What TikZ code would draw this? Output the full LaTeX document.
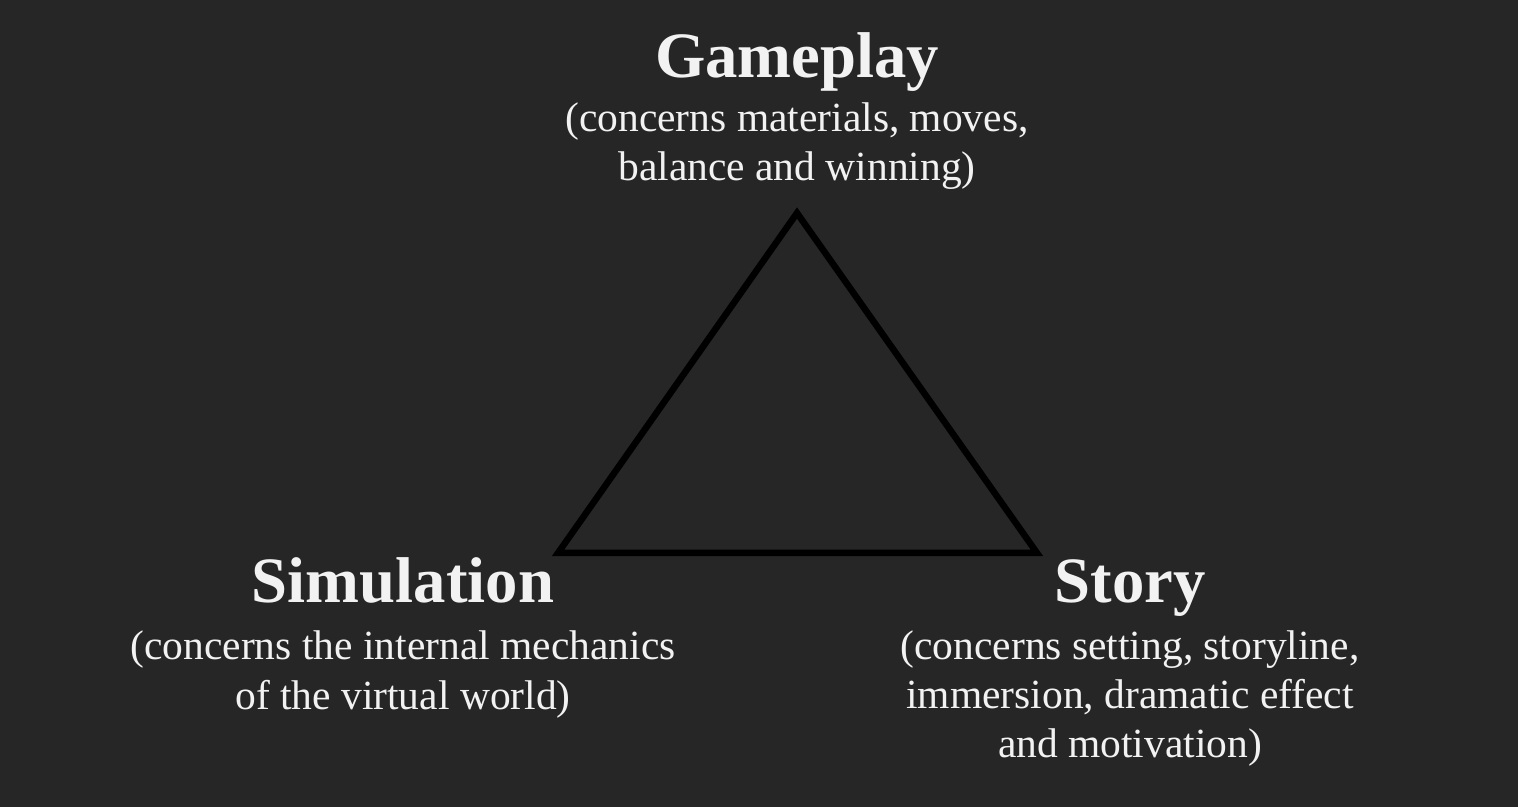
\documentclass[tikz,border=0pt]{standalone}
\usepackage{fontspec}
\setmainfont{Liberation Serif}
\definecolor{bgdark}{HTML}{262626}
\definecolor{inkwhite}{HTML}{F2F2F2}
\begin{document}
\begin{tikzpicture}[x=0.01cm,y=-0.01cm,
  headline/.style={text=inkwhite,inner sep=0pt,anchor=base,
    font=\fontsize{18.4}{22}\selectfont\bfseries},
  % multi-line notes sit on the baseline of their last line
  note/.style={text=inkwhite,inner sep=0pt,anchor=base,align=center,
    font=\fontsize{11.8}{13.95}\selectfont},
  edge/.style={draw=black,line width=0.065cm,line join=miter}]
  % canvas
  \fill[bgdark] (0,0) rectangle (1518,807);
  \useasboundingbox (0,0) rectangle (1518,807);
  % corners of the triangle
  \coordinate (top) at (797,213);
  \coordinate (left) at (558,553);
  \coordinate (right) at (1037,553);
  \draw[edge] (top) -- (right) -- (left) -- cycle;
  % labels
  \node[headline] (game) at (797,78) {Gameplay};
  \node[note] (gamenote) at (797,181) {(concerns materials, moves,\\balance and winning)};
  \node[headline] (sim) at (403,603) {Simulation};
  \node[note] (simnote) at (403,709) {(concerns the internal mechanics\\of the virtual world)};
  \node[headline] (story) at (1130,603) {Story};
  \node[note] (storynote) at (1130,758) {(concerns setting, storyline,\\immersion, dramatic effect\\and motivation)};
\end{tikzpicture}
\end{document}
